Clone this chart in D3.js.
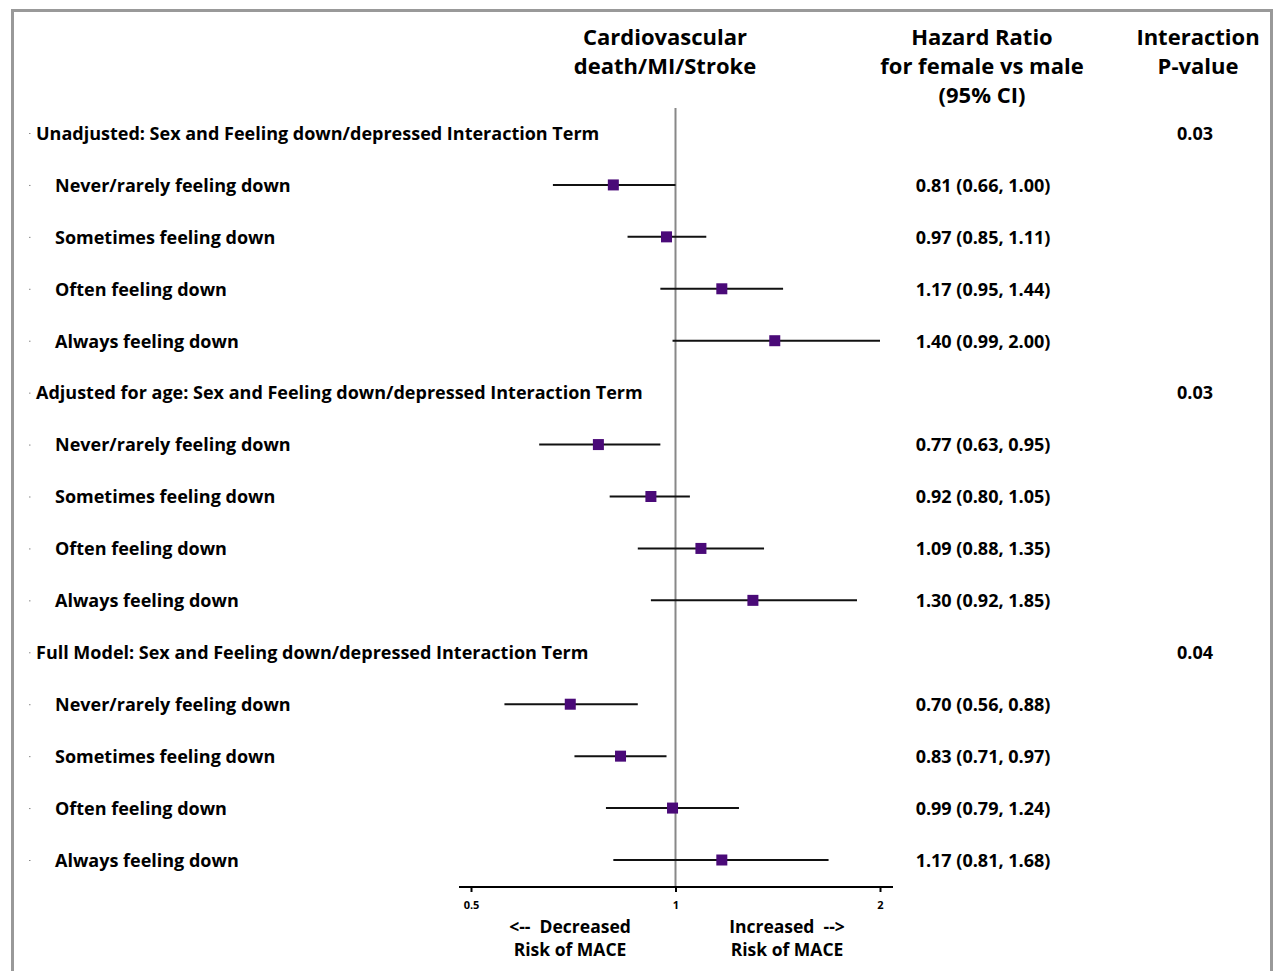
<!DOCTYPE html>
<html lang="en">
<head>
    <meta charset="utf-8">
    <title>Forest plot - Sex and feeling down interaction</title>
    <script src="https://cdn.jsdelivr.net/npm/d3@7/dist/d3.min.js"></script>
    <style>
        body { margin: 0; background: #fff; }
        svg text { font-family: 'Open Sans', sans-serif; font-weight: 700; fill: #000; }
    </style>
</head>
<body>
<div id="chart"></div>
<script>
    // data
    var groups = [
        "Unadjusted: Sex and Feeling down/depressed Interaction Term",
        "Adjusted for age: Sex and Feeling down/depressed Interaction Term",
        "Full Model: Sex and Feeling down/depressed Interaction Term"
    ];
    var pValues = ["0.03", "0.03", "0.04"];
    var subgroups = ["Never/rarely feeling down", "Sometimes feeling down", "Often feeling down", "Always feeling down"];
    var hr = [[0.81, 0.97, 1.17, 1.40], [0.77, 0.92, 1.09, 1.30], [0.70, 0.83, 0.99, 1.17]];
    var lower = [[0.66, 0.85, 0.95, 0.99], [0.63, 0.80, 0.88, 0.92], [0.56, 0.71, 0.79, 0.81]];
    var upper = [[1.00, 1.11, 1.44, 2.00], [0.95, 1.05, 1.35, 1.85], [0.88, 0.97, 1.24, 1.68]];
    var tickValues = [0.5, 1, 2];
    var tickLabels = ["0.5", "1", "2"];

    var width = 1273,
        height = 971;

    var svg = d3.select("#chart").append("svg")
        .attr("width", width)
        .attr("height", height);

    // frame
    svg.append("rect")
        .attr("x", 12.5).attr("y", 10.5)
        .attr("width", 1259).attr("height", 1000)
        .attr("fill", "none")
        .attr("stroke", "#999")
        .attr("stroke-width", 3);

    // build rows
    var rows = [];
    groups.forEach(function(g, gi) {
        rows.push({ label: g, header: true, p: pValues[gi] });
        subgroups.forEach(function(s, si) {
            rows.push({ label: s, header: false, hr: hr[gi][si], lo: lower[gi][si], hi: upper[gi][si] });
        });
    });

    var x = d3.scaleLog().domain([0.5, 2]).range([471, 880]);
    var y = d3.scalePoint().domain(d3.range(rows.length)).range([133, 860]);
    var fmt = d3.format(".2f");

    // column headers
    function header(lines, cx) {
        var t = svg.append("text")
            .attr("text-anchor", "middle")
            .style("font-size", "22px");
        lines.forEach(function(l, i) {
            t.append("tspan").attr("x", cx).attr("y", 45 + i * 29).text(l);
        });
    }
    header(["Cardiovascular", "death/MI/Stroke"], 665);
    header(["Hazard Ratio", "for female vs male", "(95% CI)"], 982);
    header(["Interaction", "P-value"], 1198);

    // reference line at HR = 1
    svg.append("line")
        .attr("x1", x(1)).attr("x2", x(1))
        .attr("y1", 108).attr("y2", 887)
        .attr("stroke", "#888")
        .attr("stroke-width", 2);

    var row = svg.selectAll("g.row")
        .data(rows)
        .enter().append("g")
        .attr("class", "row")
        .attr("transform", function(d, i) { return "translate(0," + y(i) + ")"; });

    // little marker dots at left of labels
    row.append("rect")
        .attr("x", 29).attr("y", 0)
        .attr("width", 1.5).attr("height", 1)
        .attr("fill", "#888");

    row.append("text")
        .attr("x", function(d) { return d.header ? 36 : 55; })
        .attr("dy", "0.38em")
        .style("font-size", "18px")
        .text(function(d) { return d.label; });

    row.filter(function(d) { return d.header; })
        .append("text")
        .attr("x", 1195)
        .attr("dy", "0.38em")
        .attr("text-anchor", "middle")
        .style("font-size", "18px")
        .text(function(d) { return d.p; });

    var est = row.filter(function(d) { return !d.header; });

    est.append("line")
        .attr("x1", function(d) { return x(d.lo); })
        .attr("x2", function(d) { return x(d.hi); })
        .attr("stroke", "#111")
        .attr("stroke-width", 2);

    est.append("rect")
        .attr("x", function(d) { return x(d.hr) - 5.5; })
        .attr("y", -5.5)
        .attr("width", 11).attr("height", 11)
        .attr("fill", "#4a0a78");

    est.append("text")
        .attr("x", 983)
        .attr("dy", "0.38em")
        .attr("text-anchor", "middle")
        .style("font-size", "18px")
        .text(function(d) { return fmt(d.hr) + " (" + fmt(d.lo) + ", " + fmt(d.hi) + ")"; });

    // x axis
    var axis = svg.append("g")
        .attr("transform", "translate(0,887)")
        .call(d3.axisBottom(x).tickValues(tickValues).tickSize(5).tickFormat(function(d, i) { return tickLabels[i]; }));
    axis.select(".domain").remove();
    axis.selectAll(".tick line").attr("stroke", "#000").attr("stroke-width", 2);
    axis.selectAll(".tick text")
        .attr("y", 14)
        .style("font-size", "11px")
        .attr("fill", "#000");
    axis.append("line")
        .attr("x1", x(0.5) - 12).attr("x2", x(2) + 13)
        .attr("stroke", "#000")
        .attr("stroke-width", 2);

    // direction notes
    function note(lines, cx) {
        var t = svg.append("text")
            .attr("text-anchor", "middle")
            .style("font-size", "17.5px");
        lines.forEach(function(l, i) {
            t.append("tspan").attr("x", cx).attr("y", 933 + i * 23).attr("xml:space", "preserve").text(l);
        });
    }
    note(["<--  Decreased", "Risk of MACE"], 570);
    note(["Increased  -->", "Risk of MACE"], 787);
</script>
</body>
</html>
